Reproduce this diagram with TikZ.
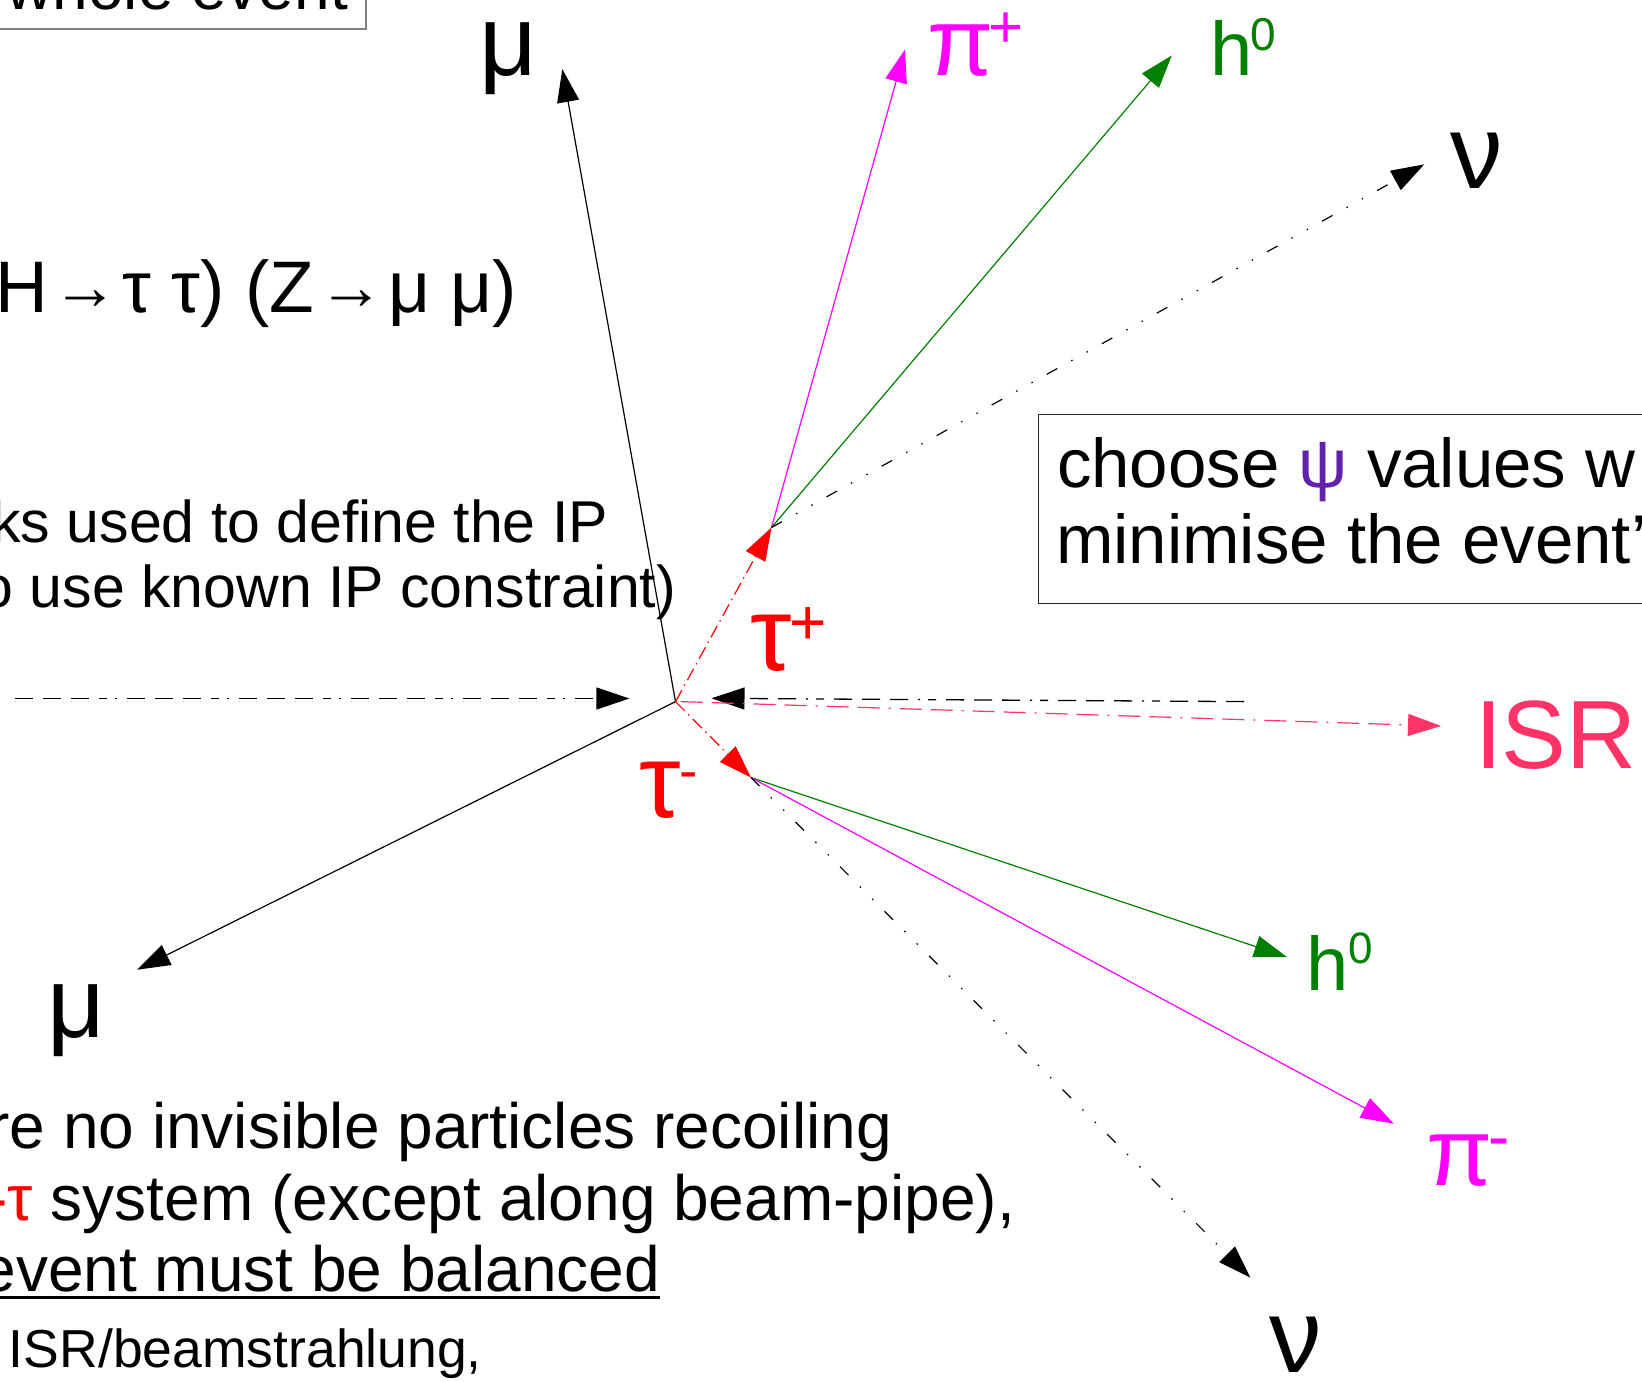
\documentclass[tikz,border=0pt]{standalone}
\usepackage{fontspec}
\setmainfont{Liberation Sans}
\usetikzlibrary{arrows.meta}
\definecolor{isrpink}{HTML}{FF3366}
\definecolor{hgreen}{HTML}{008000}
\definecolor{pimag}{HTML}{FF00FF}
\definecolor{psicol}{HTML}{6222AA}
\definecolor{boxgray}{HTML}{808080}
\newcommand{\myfs}[1]{\fontsize{#1}{#1}\selectfont}
\newcommand{\slotarrow}[1]{\makebox[#1]{\raisebox{2.5pt}{\myfs{66}→}}}
\tikzset{
  arr/.style={-{Triangle[length=33pt,width=22pt]}},
  muline/.style={arr, black, line width=1.2pt},
  beamline/.style={arr, black, line width=1.3pt, dash pattern=on 18pt off 10pt on 18pt off 10pt on 18pt off 10pt on 8pt off 8pt on 2pt off 10pt},
  tauline/.style={arr, red, line width=1.2pt, dash pattern=on 13pt off 5pt on 1.5pt off 5pt},
  isrline/.style={arr, isrpink, line width=1.2pt, dash pattern=on 22pt off 9pt on 22pt off 9pt on 2pt off 9pt},
  nuline/.style={arr, black, line width=1.2pt, dash pattern=on 12pt off 16pt on 1.5pt off 16pt on 1.5pt off 16pt},
  piline/.style={arr, pimag, line width=1.2pt},
  hline/.style={arr, hgreen, line width=1.2pt},
  lab/.style={anchor=base west, inner sep=0pt, outer sep=0pt},
  txt/.style={inner sep=0pt, outer sep=0pt}
}
\begin{document}
\begin{tikzpicture}[x=1pt,y=-1pt]
\useasboundingbox (0,0) rectangle (1642,1382);
\clip (0,0) rectangle (1642,1382);
\fill[white] (0,0) rectangle (1642,1382);

% coordinates
\coordinate (IP) at (675.5,701.6);
\coordinate (DP) at (771.5,527.5);
\coordinate (DM) at (751,777.5);
\coordinate (muU) at (562.3,69.1);
\coordinate (muL) at (137.2,969.7);
\coordinate (piP) at (905,49.5);
\coordinate (hP) at (1171.8,55.5);
\coordinate (nuP) at (1424.2,164.4);
\coordinate (hM) at (1287,957.1);
\coordinate (piM) at (1393.8,1123.6);
\coordinate (nuM) at (1250.4,1277.6);
\coordinate (bLs) at (14.7,698.5);
\coordinate (bLe) at (629.4,698.5);
\coordinate (bRs) at (1244,701.6);
\coordinate (bRe) at (711.5,698.3);
\coordinate (ISRs) at (680.7,701.6);
\coordinate (ISRe) at (1441,726);

% boxes
\draw[boxgray, line width=2pt] (-10,-10) rectangle (366,29);
\draw[black!85, line width=1.5pt] (1038.5,414.5) rectangle (1700,603.5);

% texts
\node[txt, anchor=base east, font=\myfs{64}] (whole) at (348,9.5) {whole event};
\node[txt, anchor=base east, font=\myfs{73}] (decay) at (517,312) {H\slotarrow{75pt}τ τ) (Z\slotarrow{74pt}μ μ)};
\node[txt, anchor=base east, font=\myfs{59}] (trk) at (608,542) {ks used to define the IP};
\node[txt, anchor=base east, font=\myfs{59}] (cons) at (676,607) {o use known IP constraint)};
\node[txt, anchor=base west, font=\myfs{69}] (choose) at (1057,487) {choose \textcolor{psicol}{ψ} values w};
\node[txt, anchor=base west, font=\myfs{69}] (minim) at (1056,563) {minimise the event'};
\node[txt, anchor=base east, font=\myfs{64}] (l1) at (892,1148) {re no invisible particles recoiling};
\node[txt, anchor=base east, font=\myfs{64}] (l2) at (1015,1220) {\textcolor{red}{-τ} system (except along beam-pipe),};
\node[txt, anchor=base east, font=\myfs{64}] (l3) at (660,1291) {event must be balanced};
\draw[line width=2.8pt] ([yshift=-6.5pt]l3.base west) -- ([yshift=-6.5pt]l3.base east);
\node[txt, anchor=base west, font=\myfs{53.5}] (l4) at (9,1367) {ISR/beamstrahlung,};

% connectors
\draw[muline] (IP) -- (muU);
\draw[muline] (IP) -- (muL);
\draw[beamline] (bLs) -- (bLe);
\draw[beamline] (bRs) -- (bRe);
\draw[isrline] (ISRs) -- (ISRe);
\draw[tauline] (IP) -- (DP);
\draw[tauline] (IP) -- (DM);
\draw[piline] (DP) -- (piP);
\draw[hline] (DP) -- (hP);
\draw[nuline] (DP) -- (nuP);
\draw[hline] (DM) -- (hM);
\draw[piline] (DM) -- (piM);
\draw[nuline] (DM) -- (nuM);

% labels
\node[lab, font=\myfs{100}] (muUlab) at (479,75) {μ};
\node[lab, font=\myfs{96}, pimag] (piPlab) at (927,75) {π};
\node[lab, font=\myfs{60}, pimag] (piPsup) at (988,47) {+};
\node[lab, font=\myfs{76}, hgreen] (hPlab) at (1210,75) {h};
\node[lab, font=\myfs{46}, hgreen] (hPsup) at (1250,50) {0};
\node[lab, font=\myfs{105}] (nuPlab) at (1450,188.5) {ν};
\node[lab, font=\myfs{105}, red] (tauPlab) at (750,670) {τ};
\node[lab, font=\myfs{64}, red] (tauPsup) at (789,644.5) {+};
\node[lab, font=\myfs{105}, red] (tauMlab) at (639,817) {τ};
\node[lab, font=\myfs{55}, red] (tauMsup) at (679,789.5) {-};
\node[lab, font=\myfs{97}, isrpink] (isrlab) at (1475,768) {ISR};
\node[lab, font=\myfs{76}, hgreen] (hMlab) at (1306,990) {h};
\node[lab, font=\myfs{44}, hgreen] (hMsup) at (1348,963) {0};
\node[lab, font=\myfs{96}, pimag] (piMlab) at (1426,1185) {π};
\node[lab, font=\myfs{64}, pimag] (piMsup) at (1488,1158.6) {-};
\node[lab, font=\myfs{105}] (nuMlab) at (1269,1372) {ν};
\node[lab, font=\myfs{100}] (muLlab) at (47,1037) {μ};
\end{tikzpicture}
\end{document}
